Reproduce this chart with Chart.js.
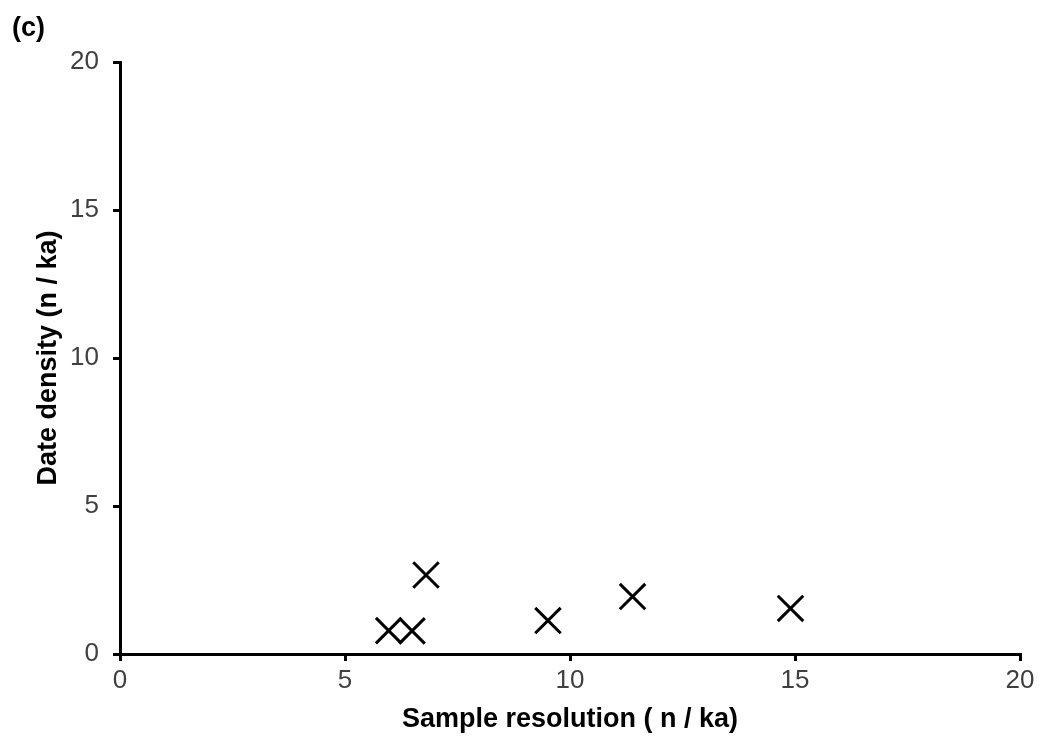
<!DOCTYPE html>
<html>
<head>
<meta charset="utf-8">
<script src="https://cdn.jsdelivr.net/npm/chart.js@4/dist/chart.umd.min.js"></script>
<style>
  html, body { margin: 0; padding: 0; background: #fff; }
  #wrap { width: 1041px; height: 736px; }
</style>
</head>
<body>
<div id="wrap"><canvas id="scatterChart" width="1041" height="736"></canvas></div>
<script>
// Values
const sampleResolution = [5.97, 6.49, 6.80, 9.51, 11.39, 14.90];
const dateDensity = [0.79, 0.78, 2.67, 1.13, 1.94, 1.54];
const xTicks = [0, 5, 10, 15, 20];
const yTicks = [0, 5, 10, 15, 20];

const points = sampleResolution.map((x, i) => ({ x: x, y: dateDensity[i] }));

const FONT = 'Liberation Sans, Arial, sans-serif';
const ctx = document.getElementById('scatterChart').getContext('2d');

new Chart(ctx, {
    type: 'scatter',
    data: {
        datasets: [{
            data: points,
            pointStyle: 'crossRot',
            pointRadius: 18,
            pointHoverRadius: 18,
            borderColor: '#000',
            backgroundColor: '#000',
            pointBorderWidth: 3
        }]
    },
    options: {
        responsive: false,
        animation: false,
        layout: { padding: { left: 12, right: 20, top: 0, bottom: 0 } },
        plugins: {
            legend: { display: false },
            tooltip: { enabled: false },
            title: {
                display: true,
                text: '(c)',
                align: 'start',
                color: '#000',
                font: { family: FONT, size: 27, weight: 'bold' },
                padding: { top: 12, bottom: 17.6 }
            }
        },
        scales: {
            x: {
                type: 'linear',
                min: 0,
                max: 20,
                afterBuildTicks: (scale) => { scale.ticks = xTicks.map(v => ({ value: v })); },
                afterFit: (scale) => { scale.height = 82; },
                border: { display: true, color: '#000', width: 3 },
                grid: { display: true, drawOnChartArea: false, drawTicks: true, tickLength: 7, color: '#000', lineWidth: 3 },
                ticks: {
                    color: '#404040',
                    padding: 4,
                    font: { family: FONT, size: 26 }
                },
                title: {
                    display: true,
                    text: 'Sample resolution ( n / ka)',
                    color: '#000',
                    font: { family: FONT, size: 27, weight: 'bold' },
                    padding: { top: 2, bottom: 0 }
                }
            },
            y: {
                type: 'linear',
                min: 0,
                max: 20,
                afterBuildTicks: (scale) => { scale.ticks = yTicks.map(v => ({ value: v })); },
                afterFit: (scale) => { scale.width = 108; },
                border: { display: true, color: '#000', width: 3 },
                grid: { display: true, drawOnChartArea: false, drawTicks: true, tickLength: 7, color: '#000', lineWidth: 3 },
                ticks: {
                    color: '#404040',
                    padding: 14,
                    font: { family: FONT, size: 26 }
                },
                title: {
                    display: true,
                    text: 'Date density (n / ka)',
                    color: '#000',
                    font: { family: FONT, size: 27, weight: 'bold' },
                    padding: { top: 20, bottom: 4 }
                }
            }
        }
    }
});
</script>
</body>
</html>
